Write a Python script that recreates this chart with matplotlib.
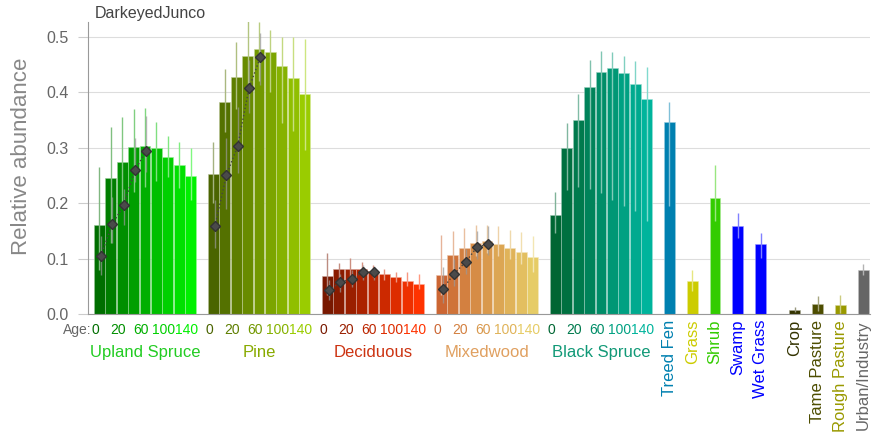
import numpy as np
import matplotlib
matplotlib.use('Agg')
import matplotlib.pyplot as plt
from matplotlib.colors import to_rgb

plt.rcParams['font.family'] = ['Liberation Sans', 'DejaVu Sans']

title = 'DarkeyedJunco'
ages = ['0', '10', '20', '40', '60', '80', '100', '120', '140']
age_shown = ['0', '20', '60', '100', '140']

forest_names = ['Upland Spruce', 'Pine', 'Deciduous', 'Mixedwood', 'Black Spruce']
forest_vals = [
    [0.160, 0.245, 0.275, 0.301, 0.304, 0.300, 0.284, 0.269, 0.249],
    [0.253, 0.383, 0.428, 0.466, 0.478, 0.472, 0.448, 0.426, 0.397],
    [0.069, 0.081, 0.082, 0.081, 0.078, 0.072, 0.066, 0.060, 0.054],
    [0.070, 0.106, 0.119, 0.129, 0.131, 0.126, 0.120, 0.112, 0.103],
    [0.179, 0.299, 0.350, 0.410, 0.436, 0.443, 0.434, 0.415, 0.388],
]
forest_hi = [
    [0.266, 0.338, 0.355, 0.370, 0.372, 0.347, 0.321, 0.310, 0.300],
    [0.311, 0.442, 0.490, 0.529, 0.527, 0.513, 0.500, 0.500, 0.496],
    [0.110, 0.092, 0.102, 0.094, 0.088, 0.082, 0.076, 0.075, 0.072],
    [0.143, 0.150, 0.155, 0.160, 0.160, 0.158, 0.152, 0.148, 0.140],
    [0.220, 0.344, 0.397, 0.458, 0.475, 0.473, 0.466, 0.457, 0.446],
]
forest_lo = [
    [0.080, 0.128, 0.200, 0.220, 0.230, 0.240, 0.248, 0.227, 0.206],
    [0.200, 0.329, 0.370, 0.400, 0.420, 0.400, 0.345, 0.330, 0.296],
    [0.035, 0.065, 0.060, 0.068, 0.066, 0.062, 0.057, 0.050, 0.045],
    [0.035, 0.075, 0.090, 0.105, 0.110, 0.105, 0.100, 0.090, 0.075],
    [0.146, 0.224, 0.229, 0.226, 0.219, 0.206, 0.195, 0.185, 0.167],
]

# smoothed estimates (diamonds) for the first five age classes
smooth_vals = [
    [0.105, 0.162, 0.196, 0.260, 0.295],
    [0.158, 0.250, 0.303, 0.408, 0.464],
    [0.043, 0.057, 0.064, 0.075, 0.075],
    [0.046, 0.073, 0.094, 0.121, 0.126],
    None,
]
smooth_hi = [
    [0.140, 0.212, 0.225, 0.318, 0.358],
    [0.206, 0.318, 0.374, 0.458, 0.507],
    [0.062, 0.072, 0.080, 0.088, 0.086],
    [0.085, 0.100, 0.118, 0.150, 0.158],
    None,
]
smooth_lo = [
    [0.070, 0.128, 0.160, 0.238, 0.257],
    [0.119, 0.190, 0.254, 0.363, 0.413],
    [0.025, 0.040, 0.048, 0.062, 0.062],
    [0.020, 0.050, 0.072, 0.100, 0.106],
    None,
]

other_names = ['Treed Fen', 'Grass', 'Shrub', 'Swamp', 'Wet Grass',
               'Crop', 'Tame Pasture', 'Rough Pasture', 'Urban/Industry']
other_vals = [0.347, 0.060, 0.209, 0.158, 0.126, 0.007, 0.018, 0.016, 0.079]
other_hi = [0.382, 0.079, 0.269, 0.182, 0.147, 0.012, 0.032, 0.034, 0.090]
other_lo = [0.195, 0.041, 0.168, 0.137, 0.102, 0.003, 0.005, 0.002, 0.070]
other_pos = [50, 52, 54, 56, 58, 61, 63, 65, 67]

# styles
forest_ends = [('#006e00', '#00f000'), ('#4a6400', '#9acc00'), ('#781800', '#ff3300'),
               ('#cc6633', '#e6cc66'), ('#006633', '#00b49c')]
forest_label_colors = ['#22cc22', '#88aa00', '#cc3311', '#e0a060', '#119977']
other_colors = ['#0080b0', '#cccc00', '#33cc00', '#0000ff', '#0000ff',
                '#333300', '#4d4d00', '#999900', '#666666']


def lighten(c, f=0.5):
    c = np.array(to_rgb(c))
    return tuple(c + (1 - c) * f)


def gradient(c0, c1, n):
    a, b = np.array(to_rgb(c0)), np.array(to_rgb(c1))
    return [tuple(a + (b - a) * t) for t in np.linspace(0, 1, n)]


fig = plt.figure(figsize=(8.73, 4.38), dpi=100)
ax = fig.add_axes([0.1008, 0.283, 0.8958, 0.667])
tr = ax.get_xaxis_transform()
gray = '#666666'

for g, name in enumerate(forest_names):
    x = np.arange(len(ages)) + 10 * g
    cols = gradient(*forest_ends[g], len(ages))
    vals = np.array(forest_vals[g])
    ax.bar(x, vals, width=0.94, color=cols, edgecolor=[lighten(c, 0.6) for c in cols],
           linewidth=0.4, zorder=2)
    ax.vlines(x, forest_lo[g], forest_hi[g], colors=[lighten(c, 0.5) for c in cols],
              linewidth=1.0, zorder=3)
    if smooth_vals[g] is not None:
        xs = x[:5] + 0.13
        ax.vlines(xs, smooth_lo[g], smooth_hi[g], colors='#999999', linewidth=1.0,
                  alpha=0.7, zorder=4)
        ax.plot(xs, smooth_vals[g], ls=':', color='#444444', lw=1.0, zorder=5)
        ax.plot(xs, smooth_vals[g], ls='none', marker='D', ms=5.5, color='#4a4a4a',
                markeredgecolor='#333333', zorder=6)
    for i, a in enumerate(ages):
        if a in age_shown:
            ax.text(x[i] - 0.33, -0.055, a, transform=tr, ha='center', va='center',
                    fontsize=10, color=cols[i])
    ax.text(x.mean(), -0.13, name, transform=tr, ha='center', va='center',
            fontsize=12, color=forest_label_colors[g])

ax.text(-0.7, -0.055, 'Age:', transform=tr, ha='right', va='center', fontsize=10, color=gray)

ax.bar(other_pos, other_vals, width=0.94, color=other_colors,
       edgecolor=[lighten(c, 0.6) for c in other_colors], linewidth=0.4, zorder=2)
ax.vlines(other_pos, other_lo, other_hi, colors=[lighten(c, 0.5) for c in other_colors],
          linewidth=1.0, zorder=3)
for p, n, c in zip(other_pos, other_names, other_colors):
    ax.text(p, -0.02, n, transform=tr, rotation=90, ha='center', va='top',
            fontsize=12, color=c)

ax.set_xlim(-1.0, 67.6)
ax.set_ylim(0, 0.527)
ax.set_yticks([0.0, 0.1, 0.2, 0.3, 0.4, 0.5])
ax.set_xticks([])
ax.yaxis.grid(True, color='#dddddd', linewidth=0.8, zorder=0)
ax.set_axisbelow(True)
ax.tick_params(axis='y', colors='#cccccc', labelcolor=gray, labelsize=11.5,
               length=7, pad=7)
for s in ['top', 'right']:
    ax.spines[s].set_visible(False)
ax.spines['left'].set_color('#999999')
ax.spines['bottom'].set_color('#999999')
fig.text(22 / 873, 1 - 156 / 438, 'Relative abundance', rotation=90, ha='center',
         va='center', fontsize=16, color='#888888')
ax.text(0.008, 1.028, title, transform=ax.transAxes, ha='left', va='center',
        fontsize=11.5, color='#444444')

fig.savefig('out.png', dpi=100)
